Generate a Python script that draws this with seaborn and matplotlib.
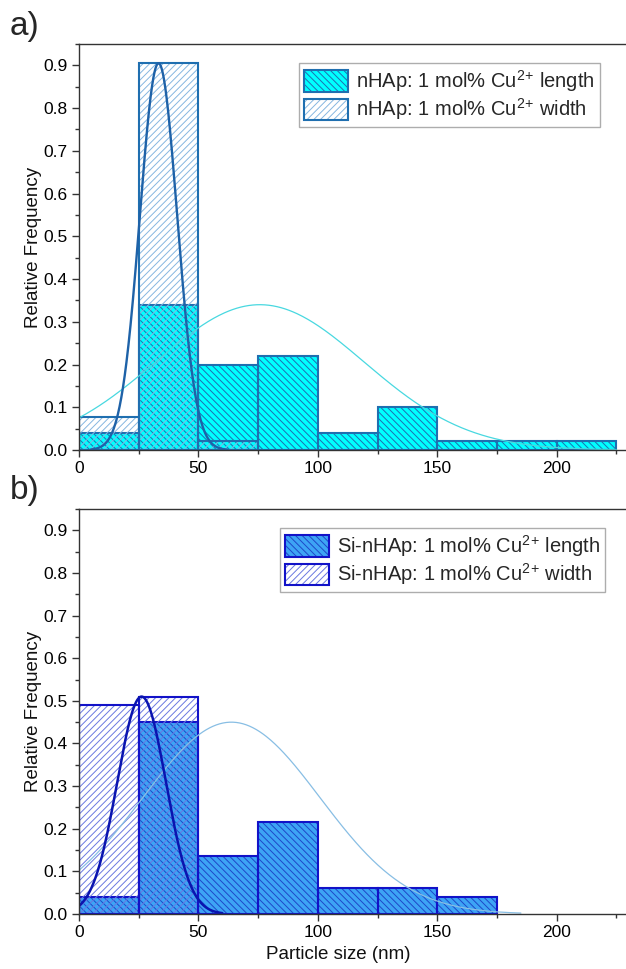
import numpy as np
import pandas as pd
import matplotlib
matplotlib.use("Agg")
import matplotlib.pyplot as plt
import seaborn as sns
from matplotlib.patches import Patch
from matplotlib.ticker import MultipleLocator

# ---------------- data ----------------
# panel a) nHAp
a_len_edges = [0, 25, 50, 75, 100, 125, 150, 175, 200, 225]
a_len_vals = [0.04, 0.34, 0.20, 0.22, 0.04, 0.10, 0.02, 0.02, 0.02]
a_wid_edges = [0, 25, 50, 75]
a_wid_vals = [0.078, 0.905, 0.02]
# Gaussian fits: amplitude, centre, sigma
a_len_fit = [0.34, 75.7, 43.6]
a_wid_fit = [0.905, 33.3, 7.8]
a_len_fit_range = [0, 225]
a_wid_fit_range = [5, 62]

# panel b) Si-nHAp
b_len_edges = [0, 25, 50, 75, 100, 125, 150, 175]
b_len_vals = [0.04, 0.45, 0.137, 0.215, 0.06, 0.06, 0.04]
b_wid_edges = [0, 25, 50]
b_wid_vals = [0.49, 0.51]
b_len_fit = [0.45, 63.8, 37.1]
b_wid_fit = [0.51, 26.2, 10.2]
b_len_fit_range = [0, 185]
b_wid_fit_range = [0, 60]

a_labels = ["nHAp: 1 mol% Cu$^{2}$$^{+}$ length",
            "nHAp: 1 mol% Cu$^{2}$$^{+}$ width"]
b_labels = ["Si-nHAp: 1 mol% Cu$^{2}$$^{+}$ length",
            "Si-nHAp: 1 mol% Cu$^{2}$$^{+}$ width"]

x_ticks = [0, 50, 100, 150, 200]
y_ticks = [0.0, 0.1, 0.2, 0.3, 0.4, 0.5, 0.6, 0.7, 0.8, 0.9]

# ---------------- style ----------------
sns.set_theme(style="white")
plt.rcParams['font.family'] = ['Liberation Sans', 'DejaVu Sans']
plt.rcParams['hatch.linewidth'] = 0.7
plt.rcParams['mathtext.fontset'] = 'custom'
plt.rcParams['mathtext.rm'] = 'Liberation Sans'
plt.rcParams['mathtext.it'] = 'Liberation Sans'
plt.rcParams['mathtext.default'] = 'regular'

W, H = 626, 969
fig = plt.figure(figsize=(W / 100, H / 100), dpi=100)

def ax_rect(left_px, top_px, right_px, bottom_px):
    return [left_px / W, 1 - bottom_px / H, (right_px - left_px) / W, (bottom_px - top_px) / H]

ax_a = fig.add_axes(ax_rect(79, 44, 626, 450))
ax_b = fig.add_axes(ax_rect(79, 509, 626, 914))

def centers(edges):
    e = np.asarray(edges, dtype=float)
    return (e[:-1] + e[1:]) / 2

def hist_layer(ax, edges, vals, face, hatch_color, hatch, edge, lw):
    df = pd.DataFrame({"x": centers(edges), "w": vals})
    sns.histplot(data=df, x="x", weights="w", bins=edges, ax=ax,
                 stat="count", element="bars", fill=True,
                 facecolor=face, edgecolor=hatch_color, linewidth=0,
                 hatch=hatch)
    sns.histplot(data=df, x="x", weights="w", bins=edges, ax=ax,
                 stat="count", element="bars", fill=True,
                 facecolor='none', edgecolor=edge, linewidth=lw)

def fit_line(ax, params, rng, color, lw):
    amp, mu, sig = params
    xs = np.linspace(rng[0], rng[1], 400)
    ys = amp * np.exp(-(xs - mu) ** 2 / (2 * sig ** 2))
    sns.lineplot(x=xs, y=ys, ax=ax, color=color, linewidth=lw, sort=False)

def style_axes(ax):
    ax.set_xlim(0, 229)
    ax.set_ylim(0, 0.95)
    ax.set_xticks(x_ticks)
    ax.set_yticks(y_ticks)
    ax.set_yticklabels([f"{t:.1f}" for t in y_ticks])
    ax.xaxis.set_minor_locator(MultipleLocator(25))
    ax.yaxis.set_minor_locator(MultipleLocator(0.05))
    ax.tick_params(axis='both', which='major', direction='out', length=5, width=1,
                   color='#333333', labelsize=12.5, labelcolor='black', pad=3,
                   bottom=True, left=True, top=False, right=False)
    ax.tick_params(axis='both', which='minor', direction='out', length=2.8, width=1,
                   color='#333333', bottom=True, left=True, top=False, right=False)
    for s in ['left', 'bottom', 'top']:
        ax.spines[s].set_visible(True)
        ax.spines[s].set_color('#333333')
        ax.spines[s].set_linewidth(1.0)
    ax.spines['right'].set_visible(False)
    ax.set_ylabel("Relative Frequency", fontsize=13.5, color='#111111')
    ax.yaxis.set_label_coords(-0.068, 0.5)
    ax.grid(False)
    ax.set_facecolor('white')

LEN_HATCH = '\\\\\\\\\\'
WID_HATCH = '/////'

leg_kw = dict(loc='upper right', fontsize=14.5, frameon=True, fancybox=False,
              edgecolor='#999999', handlelength=2.2, handleheight=1.25,
              handletextpad=0.4, borderpad=0.25, labelspacing=0.12, borderaxespad=0)

# ---------- panel a ----------
a_fill = '#00FFFF'
a_edge = '#1F6FB0'
a_len_hatch = '#1F6FB0'
a_wid_hatch = '#86B6E0'
hist_layer(ax_a, a_len_edges, a_len_vals, a_fill, a_len_hatch, LEN_HATCH, a_edge, 1.5)
hist_layer(ax_a, a_wid_edges, a_wid_vals, 'none', a_wid_hatch, WID_HATCH, a_edge, 1.5)
fit_line(ax_a, a_len_fit, a_len_fit_range, '#48D8E0', 0.9)
fit_line(ax_a, a_wid_fit, a_wid_fit_range, '#1E62A8', 1.7)
style_axes(ax_a)
ax_a.set_xlabel("")

h1 = (Patch(facecolor=a_fill, edgecolor=a_len_hatch, hatch=LEN_HATCH, linewidth=0),
      Patch(facecolor='none', edgecolor=a_edge, linewidth=1.5))
h2 = (Patch(facecolor='white', edgecolor=a_wid_hatch, hatch=WID_HATCH, linewidth=0),
      Patch(facecolor='none', edgecolor=a_edge, linewidth=1.5))
leg = ax_a.legend([h1, h2], a_labels, bbox_to_anchor=(0.952, 0.953), **leg_kw)
leg.get_frame().set_linewidth(1.0)

# ---------- panel b ----------
b_fill = '#3DA4F5'
b_edge = '#1212C8'
b_len_hatch = '#1E48C8'
b_wid_hatch = '#6A78E0'
hist_layer(ax_b, b_len_edges, b_len_vals, b_fill, b_len_hatch, LEN_HATCH, b_edge, 1.5)
hist_layer(ax_b, b_wid_edges, b_wid_vals, 'none', b_wid_hatch, WID_HATCH, b_edge, 1.5)
fit_line(ax_b, b_len_fit, b_len_fit_range, '#88BEE4', 0.9)
fit_line(ax_b, b_wid_fit, b_wid_fit_range, '#0A14B0', 1.8)
style_axes(ax_b)
ax_b.set_xlabel("Particle size (nm)", fontsize=13.5, color='#111111')
ax_b.xaxis.set_label_coords((338 - 79) / 547, -0.080)

h3 = (Patch(facecolor=b_fill, edgecolor=b_len_hatch, hatch=LEN_HATCH, linewidth=0),
      Patch(facecolor='none', edgecolor=b_edge, linewidth=1.5))
h4 = (Patch(facecolor='white', edgecolor=b_wid_hatch, hatch=WID_HATCH, linewidth=0),
      Patch(facecolor='none', edgecolor=b_edge, linewidth=1.5))
leg2 = ax_b.legend([h3, h4], b_labels, bbox_to_anchor=(0.962, 0.953), **leg_kw)
leg2.get_frame().set_linewidth(1.0)

fig.text(10 / W, 1 - 27 / H, "a)", fontsize=24, va='center', ha='left')
fig.text(10 / W, 1 - 490 / H, "b)", fontsize=24, va='center', ha='left')

fig.savefig("out.png", dpi=100)
